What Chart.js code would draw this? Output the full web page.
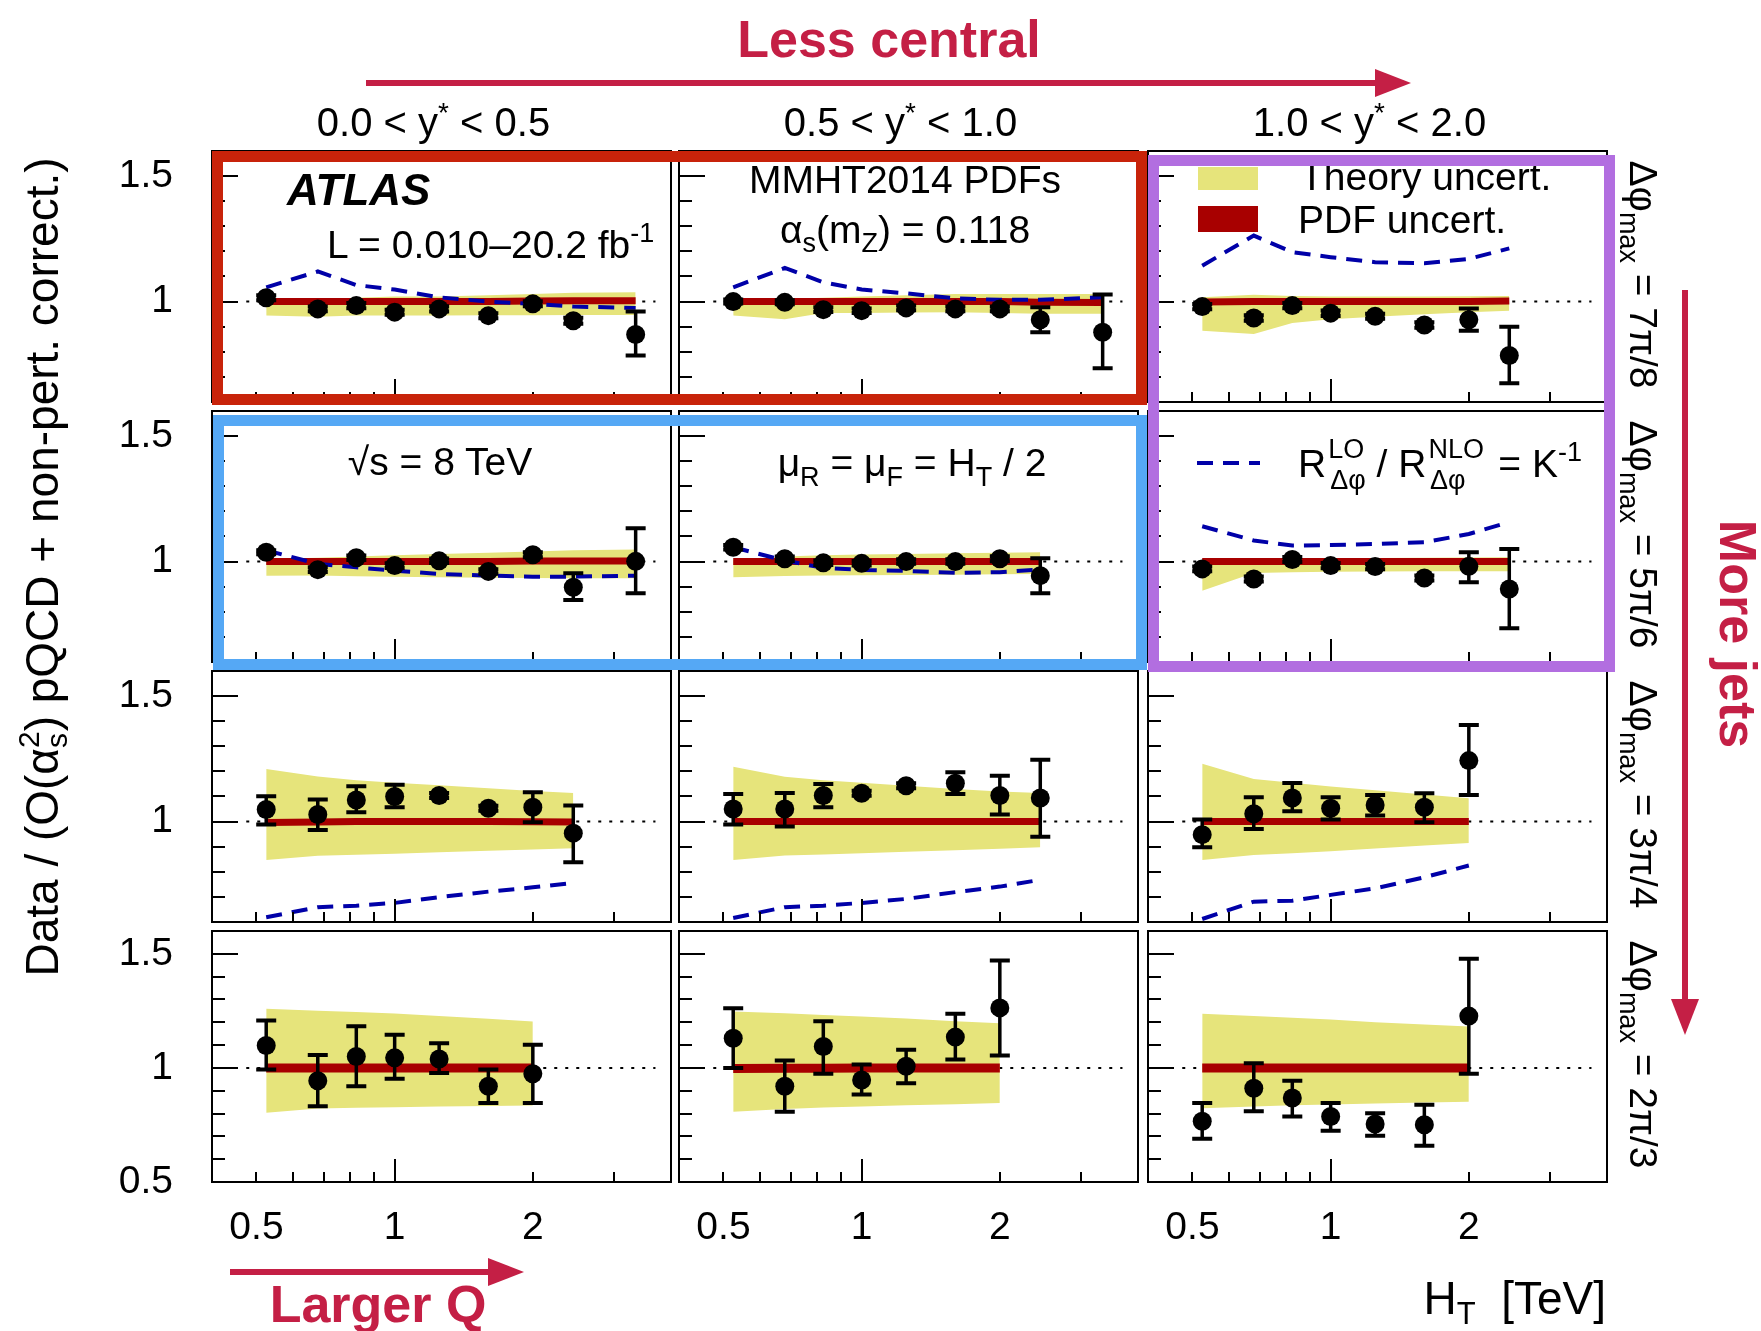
<!DOCTYPE html>
<html>
<head>
<meta charset="utf-8">
<script src="https://cdn.jsdelivr.net/npm/chart.js@4.4.1/dist/chart.umd.min.js"></script>
<style>
  html, body { margin: 0; padding: 0; background: #fff; }
  #fig { position: relative; width: 1761px; height: 1331px; overflow: hidden; background: #fff; }
  #fig canvas { position: absolute; }
  #overlay { position: absolute; left: 0; top: 0; }
</style>
</head>
<body>
<div id="fig">
  <svg id="overlay" width="1761" height="1331"></svg>
</div>
<script>
// ---- data ----
// HT bin centres [TeV]
const htBins = [0.525, 0.68, 0.825, 1.0, 1.25, 1.6, 2.0, 2.45, 3.35];

// tick values / labels
const xLabelValues = [0.5, 1, 2];
const xTickValues = [0.5, 0.6, 0.7, 0.8, 0.9, 1, 2, 3];
const xMajorTicks = [1];
const yLabelValues = [0.5, 1, 1.5];
const yTickValues = [0.5, 0.6, 0.7, 0.8, 0.9, 1.0, 1.1, 1.2, 1.3, 1.4, 1.5];
const yMajorTicks = [0.5, 1.0, 1.5];
const refLineX = [0.475, 3.7];

const yStarBins = [['0.0', '0.5'], ['0.5', '1.0'], ['1.0', '2.0']];
const dphiLabels = ['7π/8', '5π/6', '3π/4', '2π/3'];

// panels in row-major order: rows = dphi_max (7π/8 .. 2π/3), columns = y* bins
const ratioVals = [
  [1.015, 0.971, 0.984, 0.958, 0.971, 0.944, 0.991, 0.924, 0.869],
  [1.000, 0.997, 0.968, 0.964, 0.975, 0.971, 0.971, 0.928, 0.878],
  [0.980, 0.935, 0.984, 0.954, 0.942, 0.907, 0.928, 0.785],
  [1.037, 0.968, 1.015, 0.984, 1.003, 0.961, 1.027, 0.898, 1.001],
  [1.057, 1.011, 0.995, 0.993, 1.000, 1.000, 1.011, 0.944],
  [0.971, 0.931, 1.008, 0.984, 0.980, 0.935, 0.981, 0.891],
  [1.048, 1.028, 1.086, 1.100, 1.104, 1.053, 1.057, 0.954],
  [1.050, 1.050, 1.104, 1.113, 1.143, 1.153, 1.104, 1.094],
  [0.948, 1.031, 1.094, 1.053, 1.066, 1.057, 1.243],
  [1.098, 0.944, 1.050, 1.044, 1.039, 0.920, 0.974],
  [1.130, 0.920, 1.094, 0.947, 1.007, 1.135, 1.263],
  [0.766, 0.911, 0.868, 0.787, 0.754, 0.751, 1.227]
];
const ratioErrHi = [
  [1.025, 0.980, 0.994, 0.968, 0.981, 0.954, 1.001, 0.936, 0.961],
  [1.008, 1.005, 0.977, 0.973, 0.984, 0.980, 0.980, 0.977, 1.028],
  [0.990, 0.946, 0.994, 0.965, 0.952, 0.918, 0.973, 0.900],
  [1.045, 0.977, 1.024, 0.993, 1.012, 0.970, 1.037, 0.954, 1.133],
  [1.066, 1.020, 1.004, 1.002, 1.009, 1.009, 1.021, 1.013],
  [0.980, 0.941, 1.018, 0.994, 0.990, 0.945, 1.037, 1.050],
  [1.101, 1.088, 1.141, 1.147, 1.114, 1.063, 1.117, 1.064],
  [1.110, 1.114, 1.150, 1.123, 1.153, 1.197, 1.183, 1.246],
  [1.008, 1.097, 1.154, 1.097, 1.106, 1.113, 1.385],
  [1.208, 1.057, 1.183, 1.145, 1.108, 0.993, 1.102],
  [1.262, 1.032, 1.205, 1.015, 1.080, 1.237, 1.471],
  [0.846, 1.020, 0.944, 0.846, 0.801, 0.838, 1.478]
];
const ratioErrLo = [
  [1.005, 0.962, 0.974, 0.948, 0.961, 0.934, 0.981, 0.912, 0.785],
  [0.992, 0.989, 0.959, 0.955, 0.966, 0.962, 0.962, 0.878, 0.734],
  [0.970, 0.924, 0.974, 0.943, 0.932, 0.896, 0.884, 0.675],
  [1.029, 0.959, 1.006, 0.975, 0.994, 0.952, 1.017, 0.847, 0.874],
  [1.048, 1.002, 0.986, 0.984, 0.991, 0.991, 1.001, 0.874],
  [0.962, 0.921, 0.998, 0.974, 0.970, 0.925, 0.918, 0.734],
  [0.988, 0.967, 1.037, 1.057, 1.094, 1.043, 0.997, 0.838],
  [0.988, 0.980, 1.057, 1.103, 1.133, 1.110, 1.028, 0.940],
  [0.898, 0.971, 1.041, 1.008, 1.024, 0.997, 1.106],
  [0.993, 0.832, 0.920, 0.952, 0.978, 0.846, 0.846],
  [1.000, 0.808, 0.974, 0.883, 0.933, 1.037, 1.054],
  [0.689, 0.810, 0.787, 0.725, 0.703, 0.659, 0.974]
];
const theoryHi = [
  [1.010, 1.010, 1.015, 1.020, 1.020, 1.025, 1.030, 1.035, 1.037],
  [1.005, 1.010, 1.015, 1.020, 1.025, 1.030, 1.030, 1.030, 1.030],
  [1.017, 1.027, 1.022, 1.020, 1.020, 1.020, 1.021, 1.022],
  [1.010, 1.015, 1.020, 1.025, 1.030, 1.035, 1.040, 1.045, 1.048],
  [1.005, 1.020, 1.025, 1.028, 1.030, 1.033, 1.035, 1.037],
  [1.008, 1.010, 1.012, 1.013, 1.014, 1.015, 1.016, 1.017],
  [1.210, 1.180, 1.165, 1.155, 1.145, 1.133, 1.122, 1.114],
  [1.219, 1.179, 1.165, 1.155, 1.143, 1.130, 1.120, 1.114],
  [1.230, 1.170, 1.155, 1.140, 1.125, 1.108, 1.093],
  [1.259, 1.250, 1.245, 1.238, 1.228, 1.215, 1.203],
  [1.247, 1.240, 1.232, 1.225, 1.216, 1.205, 1.196],
  [1.237, 1.228, 1.220, 1.212, 1.200, 1.190, 1.181]
];
const theoryLo = [
  [0.945, 0.940, 0.945, 0.945, 0.945, 0.946, 0.946, 0.947, 0.947],
  [0.945, 0.930, 0.955, 0.955, 0.957, 0.958, 0.955, 0.952, 0.952],
  [0.884, 0.871, 0.915, 0.930, 0.940, 0.950, 0.958, 0.964],
  [0.944, 0.945, 0.942, 0.940, 0.938, 0.936, 0.935, 0.934, 0.934],
  [0.938, 0.943, 0.945, 0.946, 0.947, 0.948, 0.950, 0.951],
  [0.884, 0.955, 0.958, 0.960, 0.961, 0.962, 0.962, 0.962],
  [0.847, 0.864, 0.868, 0.872, 0.878, 0.884, 0.889, 0.894],
  [0.847, 0.865, 0.869, 0.874, 0.880, 0.886, 0.892, 0.898],
  [0.847, 0.867, 0.874, 0.882, 0.893, 0.905, 0.915],
  [0.803, 0.822, 0.825, 0.828, 0.831, 0.833, 0.835],
  [0.808, 0.820, 0.826, 0.831, 0.836, 0.841, 0.846],
  [0.823, 0.831, 0.836, 0.840, 0.844, 0.848, 0.852]
];
const pdfVals = [
  [1.000, 1.000, 1.000, 1.000, 1.000, 1.000, 1.002, 1.003, 1.003],
  [1.000, 1.000, 1.000, 1.000, 1.000, 1.000, 1.000, 0.997, 0.996],
  [0.998, 1.000, 1.000, 1.000, 1.000, 1.000, 1.000, 1.002],
  [1.000, 1.000, 1.000, 1.000, 1.000, 1.000, 1.002, 1.002, 1.002],
  [1.000, 1.000, 1.000, 1.000, 1.000, 1.000, 1.000, 1.000],
  [1.000, 1.000, 1.000, 1.000, 1.000, 1.000, 1.000, 1.000],
  [0.996, 0.998, 1.000, 1.000, 1.000, 1.000, 0.999, 0.998],
  [1.000, 1.000, 1.000, 1.000, 1.000, 1.000, 1.000, 1.000],
  [1.000, 1.000, 1.000, 1.000, 1.000, 1.000, 1.000],
  [1.000, 1.000, 1.000, 1.000, 1.000, 1.000, 1.000],
  [0.997, 0.998, 0.999, 1.000, 1.000, 1.000, 1.000],
  [1.000, 1.000, 1.000, 1.000, 1.000, 1.000, 1.000]
];
// R(LO)/R(NLO) = 1/K, off-scale in the bottom row
const kInvVals = [
  [1.057, 1.120, 1.066, 1.048, 1.017, 1.000, 0.991, 0.980, 0.975],
  [1.057, 1.134, 1.077, 1.048, 1.033, 1.013, 1.007, 1.007, 1.017],
  [1.143, 1.263, 1.197, 1.177, 1.157, 1.153, 1.170, 1.212],
  [1.045, 0.991, 0.977, 0.964, 0.951, 0.944, 0.940, 0.940, 0.944],
  [1.057, 1.004, 0.975, 0.967, 0.963, 0.955, 0.958, 0.968],
  [1.141, 1.084, 1.064, 1.066, 1.070, 1.077, 1.110, 1.157],
  [0.619, 0.659, 0.665, 0.676, 0.699, 0.721, 0.738, 0.756],
  [0.616, 0.659, 0.665, 0.676, 0.692, 0.719, 0.741, 0.768],
  [0.612, 0.681, 0.685, 0.708, 0.734, 0.778, 0.825],
  [],
  [],
  []
];

// ---- layout ----
const FONT = '"Liberation Sans", Arial, Helvetica, sans-serif';
const colX = [212, 679, 1148];
const rowY = [151, 411, 671, 931];
const panelW = 459, panelH = 251;
const PAD_L = 100, PAD_T = 6, PAD_R = 6, PAD_B = 70;

const YELLOW = '#e6e47b';
const PDF_RED = '#a80000';
const KINV_BLUE = '#0000a8';

const toPoints = vals => vals.map((v, i) => ({ x: htBins[i], y: v }));

// error bars drawn under the markers
const errorBarPlugin = {
  id: 'errorBars',
  beforeDatasetDraw(chart, args) {
    const ds = chart.data.datasets[args.index];
    if (!ds.errHi) return;
    const { ctx, scales: { x, y } } = chart;
    ctx.save();
    ctx.strokeStyle = '#000';
    ds.data.forEach((pt, i) => {
      const px = x.getPixelForValue(pt.x);
      const yHi = y.getPixelForValue(ds.errHi[i]);
      const yLo = y.getPixelForValue(ds.errLo[i]);
      ctx.lineWidth = 3.5;
      ctx.beginPath();
      ctx.moveTo(px, yHi);
      ctx.lineTo(px, yLo);
      ctx.stroke();
      ctx.lineWidth = 4;
      ctx.beginPath();
      ctx.moveTo(px - 10, yHi); ctx.lineTo(px + 10, yHi);
      ctx.moveTo(px - 10, yLo); ctx.lineTo(px + 10, yLo);
      ctx.stroke();
    });
    ctx.restore();
  }
};

// ROOT style frame with inward ticks
const framePlugin = {
  id: 'frame',
  afterDraw(chart) {
    const { ctx, chartArea: a, scales: { x, y } } = chart;
    ctx.save();
    ctx.strokeStyle = '#000';
    ctx.lineWidth = 2;
    ctx.strokeRect(a.left, a.top, a.right - a.left, a.bottom - a.top);
    ctx.beginPath();
    yTickValues.forEach(v => {
      if (v <= y.min || v >= y.max) return;
      const py = Math.round(y.getPixelForValue(v));
      const len = yMajorTicks.includes(v) ? 26 : 13;
      ctx.moveTo(a.left, py);
      ctx.lineTo(a.left + len, py);
    });
    xTickValues.forEach(v => {
      const px = Math.round(x.getPixelForValue(v));
      const len = xMajorTicks.includes(v) ? 23 : 10;
      ctx.moveTo(px, a.bottom);
      ctx.lineTo(px, a.bottom - len);
    });
    ctx.stroke();
    ctx.restore();
  }
};

const fig = document.getElementById('fig');
const overlay = document.getElementById('overlay');

function makePanel(r, c) {
  const p = r * 3 + c;
  const canvas = document.createElement('canvas');
  const w = panelW + PAD_L + PAD_R;
  const h = panelH + PAD_T + PAD_B;
  canvas.width = w;
  canvas.height = h;
  canvas.style.left = (colX[c] - PAD_L) + 'px';
  canvas.style.top = (rowY[r] - PAD_T) + 'px';
  canvas.style.width = w + 'px';
  canvas.style.height = h + 'px';
  fig.insertBefore(canvas, overlay);

  const yMin = r === 3 ? 0.5 : 0.6;
  const thin = { pointRadius: 0, pointHoverRadius: 0, showLine: true };

  new Chart(canvas, {
    type: 'line',
    data: {
      datasets: [
        { label: 'Theory uncert.', data: toPoints(theoryHi[p]), ...thin, fill: '+1',
          backgroundColor: YELLOW, borderWidth: 0, order: 10 },
        { label: 'theory low', data: toPoints(theoryLo[p]), ...thin, fill: false,
          borderWidth: 0, order: 11 },
        { label: 'ref', data: refLineX.map(v => ({ x: v, y: 1 })), ...thin,
          borderColor: '#000', borderWidth: 2, borderDash: [3, 8], order: 12 },
        { label: 'PDF uncert.', data: toPoints(pdfVals[p]), ...thin,
          borderColor: PDF_RED, borderWidth: r === 3 ? 9 : 7, order: 8 },
        { label: 'K^-1', data: toPoints(kInvVals[p]), ...thin,
          borderColor: KINV_BLUE, borderWidth: 4, borderDash: [16, 10], order: 7 },
        { label: 'Data', data: toPoints(ratioVals[p]), showLine: false,
          errHi: ratioErrHi[p], errLo: ratioErrLo[p],
          pointRadius: 9.5, pointHoverRadius: 9.5, pointBackgroundColor: '#000',
          pointBorderWidth: 0, borderColor: '#000', order: 1 }
      ]
    },
    options: {
      responsive: false,
      animation: false,
      devicePixelRatio: 1,
      events: [],
      layout: { autoPadding: false, padding: { top: PAD_T, right: PAD_R, left: 0, bottom: 0 } },
      plugins: { legend: { display: false }, tooltip: { enabled: false } },
      scales: {
        x: {
          type: 'logarithmic', min: 0.4, max: 4,
          grid: { display: false }, border: { display: false },
          ticks: {
            display: r === 3, autoSkip: false, maxRotation: 0, padding: 15,
            color: '#000', font: { family: FONT, size: 39 },
            callback: v => (xLabelValues.includes(v) ? String(v) : '')
          },
          afterBuildTicks: s => { s.ticks = xLabelValues.map(v => ({ value: v })); },
          afterFit: s => { s.height = PAD_B; s.paddingLeft = 0; s.paddingRight = 0; }
        },
        y: {
          type: 'linear', min: yMin, max: 1.6,
          grid: { display: false }, border: { display: false },
          ticks: {
            display: c === 0, autoSkip: false, padding: 31,
            color: '#000', font: { family: FONT, size: 39 },
            callback: v => String(v)
          },
          afterBuildTicks: s => { s.ticks = yLabelValues.filter(v => v >= yMin).map(v => ({ value: v })); },
          afterFit: s => { s.width = PAD_L; s.paddingTop = 0; s.paddingBottom = 0; }
        }
      }
    },
    plugins: [errorBarPlugin, framePlugin]
  });
}

for (let r = 0; r < 4; r++) {
  for (let c = 0; c < 3; c++) makePanel(r, c);
}

// ---- text, legend and annotation overlay ----
const ACCENT = '#c41f45';
let s = `<g font-family='${FONT}' font-size="39" fill="#000">`;

// column headings
yStarBins.forEach((b, c) => {
  const cx = colX[c] + panelW / 2 - 8;
  s += `<text x="${cx}" y="136" text-anchor="middle" font-size="40">${b[0]} &lt; y<tspan dy="-14" font-size="28">*</tspan><tspan dy="14"> &lt; ${b[1]}</tspan></text>`;
});

// dphi_max labels on the right
dphiLabels.forEach((lab, r) => {
  const cy = rowY[r] + panelH / 2 - 2;
  s += `<text transform="translate(1630,${cy}) rotate(90)" text-anchor="middle">Δφ<tspan dy="10" font-size="27">max</tspan><tspan dy="-10"> = ${lab}</tspan></text>`;
});

// axis titles
s += `<text transform="translate(58,567) rotate(-90)" text-anchor="middle" font-size="46">Data / (O(α<tspan dy="9" font-size="30">s</tspan><tspan dx="-15" dy="-28" font-size="30">2</tspan><tspan dy="19">) pQCD + non-pert. correct.)</tspan></text>`;
s += `<text x="1606" y="1314" text-anchor="end" font-size="46">H<tspan dy="10" font-size="31">T</tspan><tspan dy="-10">&#160;&#160;[TeV]</tspan></text>`;

// panel annotations
s += `<text x="287" y="205" font-size="44" font-weight="bold" font-style="italic">ATLAS</text>`;
s += `<text x="327" y="258">L = 0.010–20.2 fb<tspan dy="-16" font-size="27">-1</tspan></text>`;
s += `<text x="905" y="193" text-anchor="middle">MMHT2014 PDFs</text>`;
s += `<text x="905" y="243" text-anchor="middle">α<tspan dy="9" font-size="27">s</tspan><tspan dy="-9">(m</tspan><tspan dy="9" font-size="27">Z</tspan><tspan dy="-9">) = 0.118</tspan></text>`;
s += `<text x="440" y="475" text-anchor="middle">√s = 8 TeV</text>`;
s += `<text x="912" y="476" text-anchor="middle">μ<tspan dy="10" font-size="27">R</tspan><tspan dy="-10"> = μ</tspan><tspan dy="10" font-size="27">F</tspan><tspan dy="-10"> = H</tspan><tspan dy="10" font-size="27">T</tspan><tspan dy="-10"> / 2</tspan></text>`;

// legend
s += `<rect x="1198" y="167" width="60" height="23" fill="${YELLOW}"/>`;
s += `<text x="1300" y="190">Theory uncert.</text>`;
s += `<rect x="1198" y="206" width="60" height="26" fill="${PDF_RED}"/>`;
s += `<text x="1298" y="233">PDF uncert.</text>`;
s += `<line x1="1197" y1="463" x2="1260" y2="463" stroke="${KINV_BLUE}" stroke-width="4" stroke-dasharray="16 10"/>`;
s += `<text x="1298" y="477">R<tspan dx="2" dy="-19" font-size="27">LO</tspan><tspan dx="-34" dy="31" font-size="27">Δφ</tspan><tspan dy="-12"> / R</tspan><tspan dx="2" dy="-19" font-size="27">NLO</tspan><tspan dx="-54" dy="31" font-size="27">Δφ</tspan><tspan dx="22" dy="-12"> = K</tspan><tspan dy="-16" font-size="27">-1</tspan></text>`;

// highlight boxes
s += `<rect x="217.5" y="156.5" width="924" height="243" fill="none" stroke="#c8230a" stroke-width="11"/>`;
s += `<rect x="218.5" y="420.5" width="923" height="244" fill="none" stroke="#55a8f5" stroke-width="11"/>`;
s += `<rect x="1153.5" y="160.5" width="456" height="506" fill="none" stroke="#b26ee0" stroke-width="11"/>`;

// arrows and their captions
s += `<text x="889" y="57" text-anchor="middle" font-size="52" font-weight="bold" fill="${ACCENT}">Less central</text>`;
s += `<line x1="366" y1="83" x2="1380" y2="83" stroke="${ACCENT}" stroke-width="6"/>`;
s += `<polygon points="1375,69 1411,83 1375,97" fill="${ACCENT}"/>`;
s += `<text transform="translate(1720,634) rotate(90)" text-anchor="middle" font-size="52" font-weight="bold" fill="${ACCENT}">More jets</text>`;
s += `<line x1="1685" y1="290" x2="1685" y2="1005" stroke="${ACCENT}" stroke-width="6"/>`;
s += `<polygon points="1671,999 1685,1035 1699,999" fill="${ACCENT}"/>`;
s += `<text x="378" y="1322" text-anchor="middle" font-size="52" font-weight="bold" fill="${ACCENT}">Larger Q</text>`;
s += `<line x1="230" y1="1272" x2="492" y2="1272" stroke="${ACCENT}" stroke-width="6"/>`;
s += `<polygon points="488,1258 524,1272 488,1286" fill="${ACCENT}"/>`;
s += `</g>`;
overlay.innerHTML = s;
</script>
</body>
</html>
